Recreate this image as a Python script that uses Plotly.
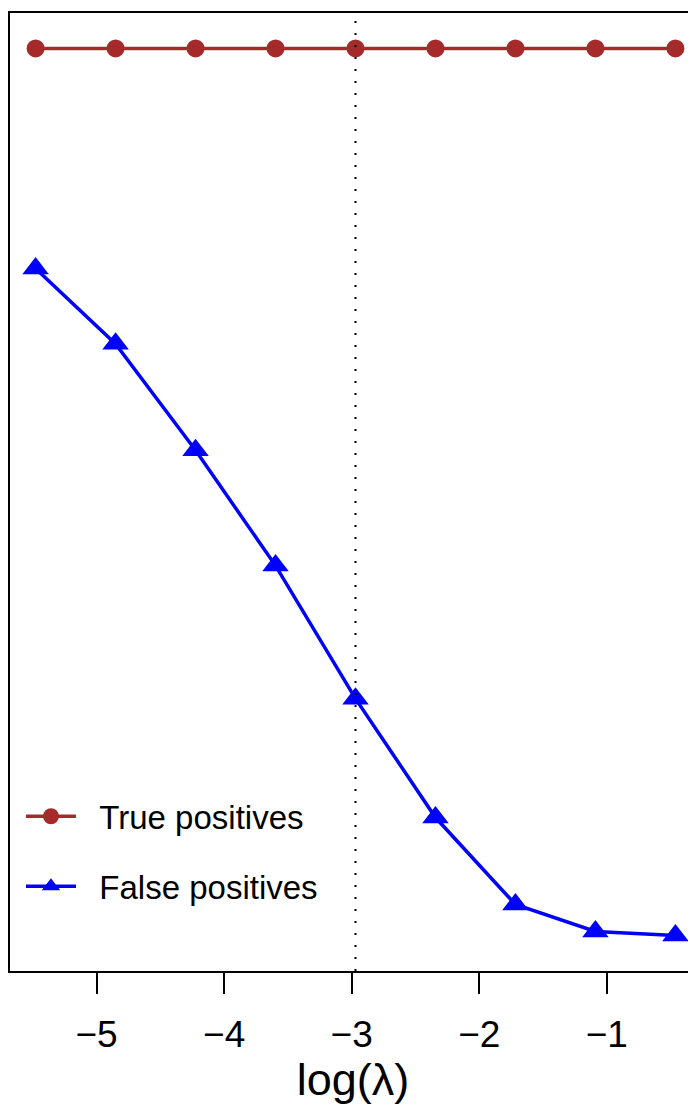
import plotly.graph_objects as go

# data
log_lambda = [-5.478, -4.851, -4.224, -3.597, -2.970, -2.343, -1.716, -1.089, -0.462]
true_pos = [1.0, 1.0, 1.0, 1.0, 1.0, 1.0, 1.0, 1.0, 1.0]
false_pos = [0.752, 0.667, 0.547, 0.417, 0.267, 0.133, 0.035, 0.0045, 0.0]
lambda_sel = -2.970
x_ticks = [-5, -4, -3, -2, -1]

# page body has an 8px margin; figure sized so the page fits the window exactly
W, H = 688, 1097
ML, MR, MT, MB = 2, 0, 5, 134
FONT = "Liberation Sans, Arial, sans-serif"
NB = "\u00a0"

# R-style 4% padding
xmin, xmax = min(log_lambda), max(log_lambda)
xs = xmax - xmin
x_lo, x_hi_full = xmin - 0.04 * xs, xmax + 0.04 * xs
# the right side of the box is cut by the window edge
x_hi = x_lo + (x_hi_full - x_lo) * 686 / 691
ally = true_pos + false_pos
ymin, ymax = min(ally), max(ally)
ys = ymax - ymin
y_lo, y_hi = ymin - 0.04 * ys, ymax + 0.04 * ys

fig = go.Figure()
fig.add_trace(go.Scatter(
    x=log_lambda, y=true_pos, mode="lines+markers", name=NB * 2 + "True positives",
    line=dict(color="#A52A2A", width=3.5),
    marker=dict(symbol="circle", size=18, color="#A52A2A"),
    legendgroup="a",
))
fig.add_trace(go.Scatter(
    x=log_lambda, y=false_pos, mode="lines+markers", name=NB * 2 + "False positives",
    line=dict(color="#0000FF", width=3.5),
    marker=dict(symbol="triangle-up", size=23, color="#0000FF"),
    legendgroup="b",
))

fig.add_shape(type="line", x0=lambda_sel, x1=lambda_sel, xref="x",
              y0=0, y1=1, yref="paper",
              line=dict(color="black", width=2, dash="2px,10px"))

fig.update_layout(
    width=W, height=H,
    margin=dict(l=ML, r=MR, t=MT, b=MB, pad=0),
    paper_bgcolor="white", plot_bgcolor="white",
    font=dict(family=FONT, color="black"),
    legend=dict(
        x=0.016, y=0.1907, xanchor="left", yanchor="top",
        font=dict(size=33, family=FONT, color="black"),
        bgcolor="rgba(0,0,0,0)", tracegroupgap=24,
        itemwidth=50,
    ),
    xaxis=dict(
        range=[x_lo, x_hi], tickvals=x_ticks,
        showgrid=False, zeroline=False,
        showline=True, linecolor="black", linewidth=2, mirror=True,
        ticks="outside", ticklen=21, tickwidth=2, tickcolor="black",
        tickfont=dict(size=37, family=FONT, color="black"),
        ticklabelstandoff=9,
        title=dict(text="log(λ)", font=dict(size=45, family=FONT, color="black"), standoff=7),
    ),
    yaxis=dict(
        range=[y_lo, y_hi], showgrid=False, zeroline=False,
        showline=True, linecolor="black", linewidth=2, mirror=False,
        showticklabels=False, ticks="",
    ),
)

fig.write_html("out.html")
